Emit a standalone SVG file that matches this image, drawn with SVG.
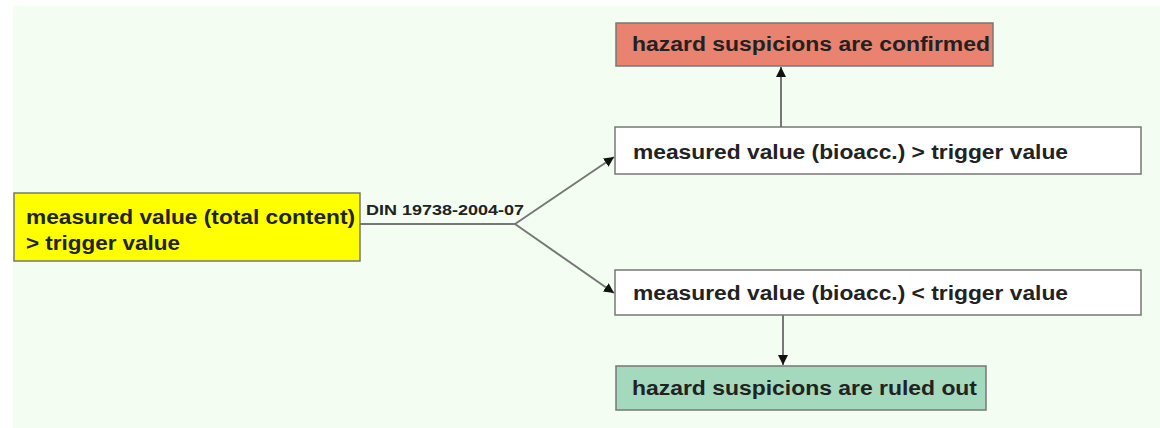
<svg xmlns="http://www.w3.org/2000/svg" width="1160" height="428" viewBox="0 0 1160 428">
<style>
.t{font-family:"Liberation Sans",Arial,sans-serif;font-weight:bold;font-size:20px;fill:#222}
.box{stroke:#777;stroke-width:1.5}
.c{stroke:#777;stroke-width:2;fill:none}
</style>
<defs>
<marker id="ah" viewBox="0 0 10 10" refX="10" refY="5" markerWidth="10" markerHeight="10" markerUnits="userSpaceOnUse" orient="auto">
<path d="M0,0 L10,5 L0,10 z" fill="#111"/>
</marker>
</defs>
<rect x="0" y="0" width="1160" height="428" fill="#ffffff"/>
<rect x="13" y="6" width="1147" height="422" fill="#f3fdf1"/>
<g id="connectors">
<line class="c" x1="360" y1="224" x2="515" y2="224"/>
<line class="c" x1="515" y1="224" x2="614" y2="157" marker-end="url(#ah)"/>
<line class="c" x1="515" y1="224" x2="614" y2="293" marker-end="url(#ah)"/>
<line class="c" x1="781" y1="127" x2="781" y2="67" marker-end="url(#ah)"/>
<line class="c" x1="783" y1="315" x2="783" y2="365" marker-end="url(#ah)"/>
<text class="t" x="366" y="215" style="font-size:15px" textLength="158" lengthAdjust="spacingAndGlyphs">DIN 19738-2004-07</text>
</g>
<g id="start">
<rect class="box" x="14" y="193" width="346" height="68" fill="#ffff00"/>
<text class="t" x="26" y="224" textLength="329" lengthAdjust="spacingAndGlyphs">measured value (total content)</text>
<text class="t" x="26" y="250" textLength="154" lengthAdjust="spacingAndGlyphs">&gt; trigger value</text>
</g>
<g id="above">
<rect class="box" x="615" y="127" width="526" height="47" fill="#ffffff"/>
<text class="t" x="633" y="159" textLength="435" lengthAdjust="spacingAndGlyphs">measured value (bioacc.) &gt; trigger value</text>
</g>
<g id="below">
<rect class="box" x="615" y="270" width="526" height="45" fill="#ffffff"/>
<text class="t" x="633" y="300" textLength="435" lengthAdjust="spacingAndGlyphs">measured value (bioacc.) &lt; trigger value</text>
</g>
<g id="confirmed">
<rect class="box" x="616" y="23" width="377" height="43" fill="#e9836f"/>
<text class="t" x="632" y="51" textLength="358" lengthAdjust="spacingAndGlyphs">hazard suspicions are confirmed</text>
</g>
<g id="ruledout">
<rect class="box" x="616" y="366" width="370" height="44" fill="#a4d9bd"/>
<text class="t" x="632" y="395" textLength="345" lengthAdjust="spacingAndGlyphs">hazard suspicions are ruled out</text>
</g>
</svg>
